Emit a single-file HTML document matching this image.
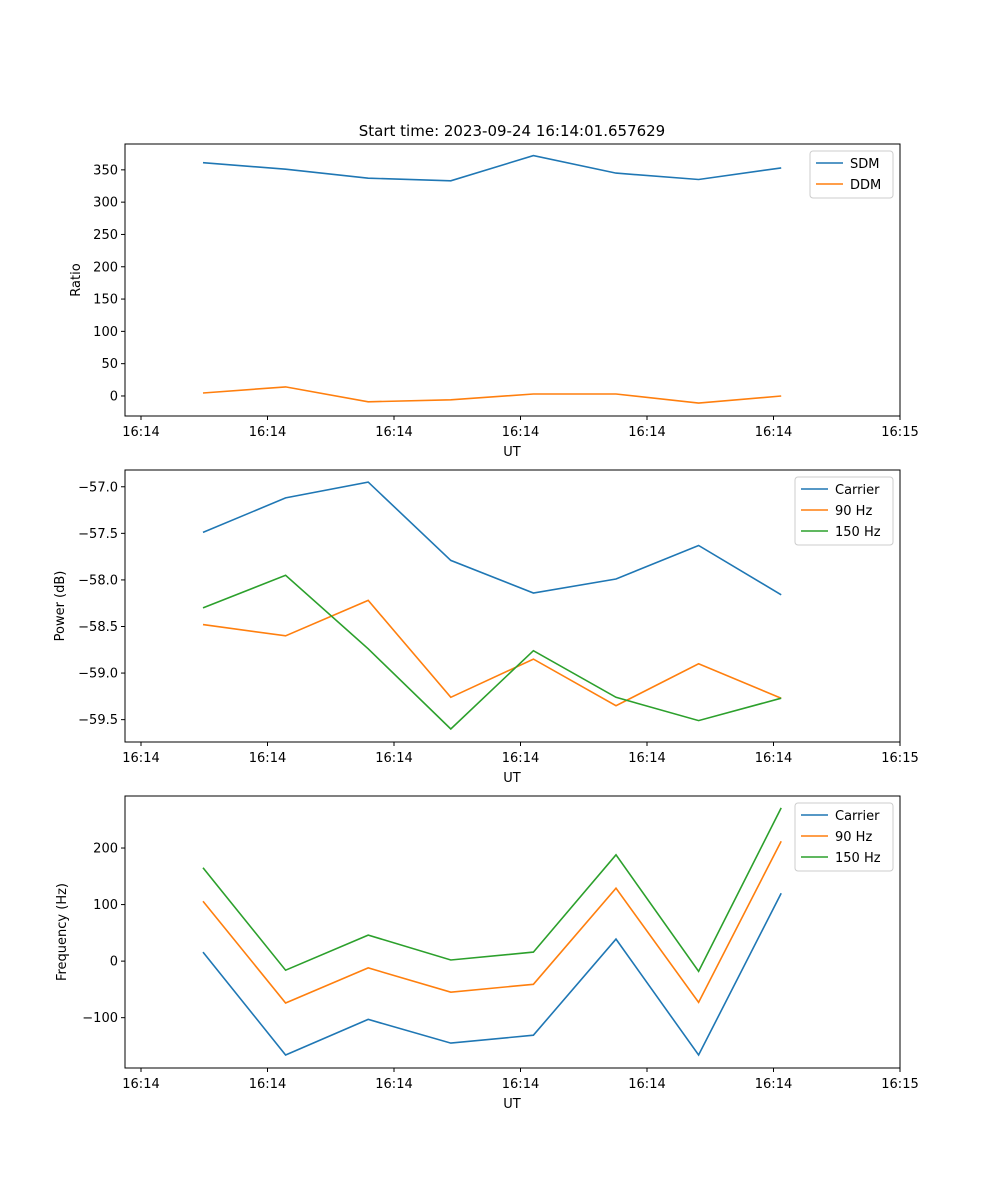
<!DOCTYPE html>
<html><head><meta charset="utf-8">
<style>
body{margin:0;background:#fff;}
svg{display:block;font-family:"DejaVu Sans","Liberation Sans",sans-serif;}
</style></head>
<body>
<svg id="fig" width="1000" height="1200" xmlns="http://www.w3.org/2000/svg">
<rect width="1000" height="1200" fill="#fff"/>
<text x="512" y="136" font-size="15" text-anchor="middle">Start time: 2023-09-24 16:14:01.657629</text>
</svg>
<script>
const times = [4.9, 11.43, 17.96, 24.49, 31.02, 37.55, 44.08, 50.61];
const tickTimes = [0, 10, 20, 30, 40, 50, 60];
const tickLabels = ["16:14","16:14","16:14","16:14","16:14","16:14","16:15"];
const sdm = [361, 351, 337, 333, 372, 345, 335, 353];
const ddm = [4.6, 14, -9, -6, 3, 3, -11, 0];
const powCarrier = [-57.49, -57.12, -56.95, -57.79, -58.14, -57.99, -57.63, -58.16];
const pow90 = [-58.48, -58.60, -58.22, -59.26, -58.85, -59.35, -58.90, -59.27];
const pow150 = [-58.30, -57.95, -58.74, -59.60, -58.76, -59.26, -59.51, -59.27];
const freqCarrier = [16, -166, -103, -145, -131, 39, -166, 120];
const freq90 = [106, -74, -12, -55, -41, 129, -73, 212];
const freq150 = [165, -16, 46, 2, 16, 188, -18, 271];
const ratioTicks = [0,50,100,150,200,250,300,350];
const powTicks = [-57.0,-57.5,-58.0,-58.5,-59.0,-59.5];
const freqTicks = [-100,0,100,200];

const NS="http://www.w3.org/2000/svg";
const svg=document.getElementById('fig');
const X0=125,X1=900,TMIN=-1.265,TMAX=60;
function xs(t){return X0+(t-TMIN)/(TMAX-TMIN)*(X1-X0);}
function mk(tag,attrs,parent){const e=document.createElementNS(NS,tag);for(const k in attrs)e.setAttribute(k,attrs[k]);(parent||svg).appendChild(e);return e;}
const C={blue:'#1f77b4',orange:'#ff7f0e',green:'#2ca02c'};

function panel(name,top,bottom,ymin,ymax,yticks,fmt,ylabel,series,legend){
  const g=mk('g',{});
  
  
  const ys=v=>bottom-(v-ymin)/(ymax-ymin)*(bottom-top);
  yticks.forEach(v=>{
    const y=ys(v);
    mk('line',{x1:X0-4,x2:X0,y1:y,y2:y,stroke:'#000','stroke-width':1},g);
    const t=mk('text',{x:X0-7,y:y+4.5,'font-size':13,'text-anchor':'end'},g);
    
    
    t.textContent=fmt(v);
  });
  tickTimes.forEach((tt,i)=>{
    const x=xs(tt);
    mk('line',{x1:x,x2:x,y1:bottom,y2:bottom+4,stroke:'#000','stroke-width':1},g);
    const t=mk('text',{x:x,y:bottom+20,'font-size':13,'text-anchor':'middle'},g);
    
    
    t.textContent=tickLabels[i];
  });
  const xl=mk('text',{x:512,y:bottom+40,'font-size':13,'text-anchor':'middle'},g);
  
  
  xl.textContent='UT';
  const cy=(top+bottom)/2, lx=ylabel.x;
  const yl=mk('text',{x:lx,y:cy,'font-size':13,'text-anchor':'middle',transform:`rotate(-90 ${lx} ${cy})`},g);
  
  
  yl.textContent=ylabel.t;
  series.forEach(s=>{
    const pts=s.v.map((v,i)=>xs(times[i]).toFixed(1)+','+ys(v).toFixed(1)).join(' ');
    const p=mk('polyline',{points:pts,fill:'none',stroke:s.c,'stroke-width':1.6},g);
    
    
  });
  mk('rect',{x:X0,y:top,width:X1-X0,height:bottom-top,fill:'none',stroke:'#000','stroke-width':1},g);
  const lg=mk('g',{},g);
  
  
  mk('rect',{x:legend.x,y:top+7,width:X1-7-legend.x,height:series.length*21+5,rx:3,fill:'#fff',stroke:'#ccc'},lg);
  series.forEach((s,i)=>{
    const y=top+19+i*21;
    mk('line',{x1:legend.x+6,x2:legend.x+33,y1:y,y2:y,stroke:s.c,'stroke-width':1.6},lg);
    const t=mk('text',{x:legend.x+40,y:y+5,'font-size':13},lg);
    
    
    t.textContent=s.label;
  });
}
panel('ratio',144,416,-31,390,ratioTicks,v=>String(v),{x:80,t:'Ratio'},
  [{v:sdm,c:C.blue,n:'sdm',label:'SDM'},{v:ddm,c:C.orange,n:'ddm',label:'DDM'}],{x:810});
panel('power',470,742,-59.74,-56.82,powTicks,v=>v.toFixed(1).replace('-','\u2212'),{x:64,t:'Power (dB)'},
  [{v:powCarrier,c:C.blue,n:'power-carrier',label:'Carrier'},{v:pow90,c:C.orange,n:'power-90hz',label:'90 Hz'},{v:pow150,c:C.green,n:'power-150hz',label:'150 Hz'}],{x:795});
panel('frequency',796,1068,-189,292,freqTicks,v=>String(v).replace('-','\u2212'),{x:66,t:'Frequency (Hz)'},
  [{v:freqCarrier,c:C.blue,n:'freq-carrier',label:'Carrier'},{v:freq90,c:C.orange,n:'freq-90hz',label:'90 Hz'},{v:freq150,c:C.green,n:'freq-150hz',label:'150 Hz'}],{x:795});
</script>
</body></html>
